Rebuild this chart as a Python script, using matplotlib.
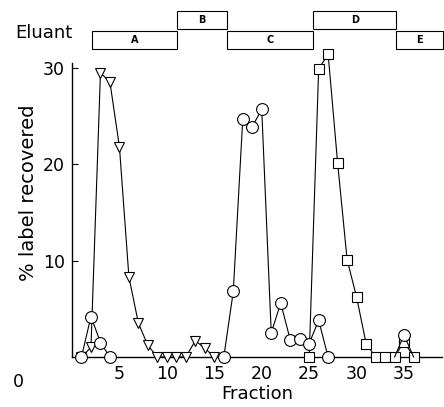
import matplotlib
matplotlib.use("Agg")
import matplotlib.pyplot as plt
from matplotlib.patches import Rectangle
from matplotlib.transforms import blended_transform_factory

# Fraction numbers and % label recovered
tri_x = [1, 2, 3, 4, 5, 6, 7, 8, 9, 10, 11, 12, 13, 14, 15]
tri_y = [0, 1.0, 29.5, 28.5, 21.8, 8.3, 3.5, 1.2, 0, 0, 0, 0, 1.7, 0.9, 0]

circ1_x = [1, 2, 3, 4]
circ1_y = [0, 4.2, 1.5, 0]

circ2_x = [16, 17, 18, 19, 20, 21, 22, 23, 24, 25, 26, 27]
circ2_y = [0, 6.8, 24.7, 23.9, 25.7, 2.5, 5.6, 1.8, 1.9, 1.4, 3.8, 0]

circ3_x = [34, 35, 36]
circ3_y = [0, 2.3, 0]

sq_x = [25, 26, 27, 28, 29, 30, 31, 32, 33, 34, 35, 36]
sq_y = [0, 29.9, 31.4, 20.1, 10.1, 6.2, 1.4, 0, 0, 0, 1.6, 0]

# Eluant steps (fraction boundaries)
eluant_labels = ["A", "B", "C", "D", "E"]
eluant_edges = [2.1, 11.1, 16.3, 25.4, 34.2, 39.1]

fig = plt.figure(figsize=(4.44, 4.07), dpi=100)
ax = fig.add_axes([72 / 444, 50 / 407, 370 / 444, 294 / 407])

line_kw = dict(color="black", lw=0.8, mfc="white", mec="black", mew=0.8, clip_on=False)

ax.plot(tri_x, tri_y, marker="v", ms=6.5, zorder=3, **line_kw)
ax.plot(sq_x, sq_y, marker="s", ms=7, zorder=4, **line_kw)
ax.plot(circ1_x, circ1_y, marker="o", ms=8.5, zorder=5, **line_kw)
ax.plot(circ2_x, circ2_y, marker="o", ms=8.5, zorder=5, **line_kw)
ax.plot(circ3_x, circ3_y, marker="o", ms=8.5, markevery=[1], zorder=5, **line_kw)

ax.set_xlim(0, 39)
ax.set_ylim(0, 30.5)
ax.set_xticks([5, 10, 15, 20, 25, 30, 35])
ax.set_yticks([10, 20, 30])
ax.tick_params(axis="x", length=0, pad=6, labelsize=12.5)
ax.tick_params(axis="y", direction="in", length=4, width=0.8, pad=5, labelsize=12.5)
for s in ["top", "right"]:
    ax.spines[s].set_visible(False)
for s in ["left", "bottom"]:
    ax.spines[s].set_linewidth(1.0)

ax.set_xlabel("Fraction", fontsize=13, labelpad=1)
ax.set_ylabel("% label recovered", fontsize=14)
ax.yaxis.set_label_coords(-0.092, 0.558)
fig.text(18 / 444, 1 - 382 / 407, "0", fontsize=12.5, ha="center", va="center")

# Eluant bar above the plot
trans = blended_transform_factory(ax.transData, ax.transAxes)
low = (1.048, 1.109)
high = (1.116, 1.177)
for i, lab in enumerate(eluant_labels):
    x0, x1 = eluant_edges[i], eluant_edges[i + 1]
    y0, y1 = high if i % 2 else low
    ax.add_patch(Rectangle((x0, y0), x1 - x0, y1 - y0, transform=trans,
                           fill=False, lw=0.8, ec="black", clip_on=False))
    ax.text((x0 + x1) / 2, (y0 + y1) / 2, lab, transform=trans, ha="center",
            va="center", fontsize=7, fontweight="bold")
fig.text(44 / 444, 1 - 33 / 407, "Eluant", fontsize=13, ha="center", va="center")

fig.savefig("out.png", dpi=100)
